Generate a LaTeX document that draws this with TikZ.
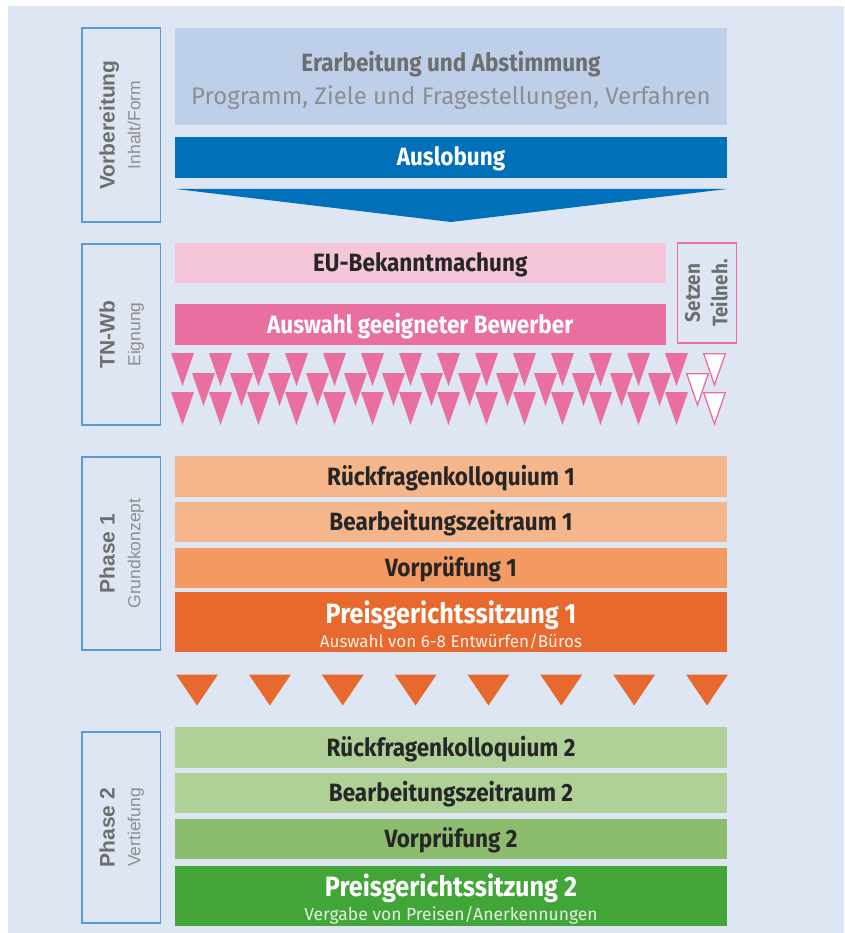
\documentclass[tikz,border=0pt]{standalone}
\usepackage{fontspec}
\setmainfont{Fira Sans}
\newfontfamily\blkfont[FakeStretch=0.9]{Fira Sans}
\newfontfamily\subfont[FakeStretch=1.0]{Fira Sans}
\newfontfamily\sidefont{Liberation Sans}
\definecolor{bg}{HTML}{DFE6F3}
\definecolor{sideline}{HTML}{5B9BD5}
\definecolor{vorb}{HTML}{BED0E9}
\definecolor{blueD}{HTML}{0070B8}
\definecolor{pinkL}{HTML}{F5C5DA}
\definecolor{pinkD}{HTML}{EA6FA1}
\definecolor{orL}{HTML}{F6B68B}
\definecolor{orM}{HTML}{F29A61}
\definecolor{orD}{HTML}{E8692D}
\definecolor{grL}{HTML}{AFD096}
\definecolor{grM}{HTML}{8CBD6E}
\definecolor{grD}{HTML}{41A537}
\definecolor{txtD}{HTML}{262626}
\definecolor{txtG}{HTML}{6E6E6E}
\definecolor{txtG2}{HTML}{8E8E8E}
\tikzset{
  sidebox/.style={draw=sideline, line width=1.5pt, inner sep=0pt},
  sidemain/.style={rotate=90, inner sep=0pt, text=txtG, font=\sidefont\bfseries\fontsize{21}{25}\selectfont, text height=15pt, text depth=0pt},
  sidesub/.style={rotate=90, inner sep=0pt, text=txtG2, font=\sidefont\fontsize{17.5}{21}\selectfont, text height=12.5pt, text depth=0pt},
  blk/.style={rectangle, inner sep=0pt, minimum width=552pt, text=txtD, font=\blkfont\bfseries\fontsize{25}{30}\selectfont, text height=17pt, text depth=0pt},
  blktxt/.style={inner sep=0pt, text depth=0pt},
  ptri/.style={fill=pinkD},
  wtri/.style={fill=white, draw=pinkD, line width=1.3pt, line join=miter},
  otri/.style={fill=orD}
}
\begin{document}
\begin{tikzpicture}[x=1pt,y=-1pt]
\fill[white] (0,0) rectangle (844,933);
\useasboundingbox (0,0) rectangle (844,933);
\fill[bg] (8,6) rectangle (844,933);

% side boxes
\node[sidebox, minimum width=78.5pt, minimum height=194pt] (sbV) at (121.25,125) {};
\node[sidemain] (sbVm) at (107,125) {Vorbereitung};
\node[sidesub] (sbVs) at (134,125) {Inhalt/Form};
\node[sidebox, minimum width=78.5pt, minimum height=181pt] (sbT) at (121.25,334.5) {};
\node[sidemain] (sbTm) at (107,334.5) {TN-Wb};
\node[sidesub] (sbTs) at (134,334.5) {Eignung};
\node[sidebox, minimum width=78.5pt, minimum height=193pt] (sb1) at (121.25,553.5) {};
\node[sidemain] (sb1m) at (107,553.5) {Phase 1};
\node[sidesub] (sb1s) at (134,553.5) {Grundkonzept};
\node[sidebox, minimum width=78.5pt, minimum height=191pt] (sb2) at (121.25,827.5) {};
\node[sidemain] (sb2m) at (107,827.5) {Phase 2};
\node[sidesub] (sb2s) at (134,827.5) {Vertiefung};

% Vorbereitung
\node[blk, fill=vorb, minimum height=97.5pt] (erarb) at (451,76.75) {};
\node[blktxt, text=txtG, font=\blkfont\bfseries\fontsize{25}{30}\selectfont, text height=17pt] (erarbT) at (451,63.5) {Erarbeitung und Abstimmung};
\node[blktxt, text=txtG2, font=\subfont\fontsize{24}{28}\selectfont, text height=16.5pt] (erarbS) at (451,96.5) {Programm, Ziele und Fragestellungen, Verfahren};
\node[blk, fill=blueD, text=white, minimum height=41pt] (ausl) at (451,157.5) {Auslobung};
\fill[blueD] (176,189) -- (727,189) -- (451,222) -- cycle;

% TN-Wb
\node[blk, fill=pinkL, minimum width=490.5pt, minimum height=40.5pt] (eu) at (420.25,262.75) {EU-Bekanntmachung};
\node[blk, fill=pinkD, text=white, minimum width=490.5pt, minimum height=41pt] (ausw) at (420.25,324.5) {Auswahl geeigneter Bewerber};
\node[draw=pinkD, line width=1.5pt, minimum width=59pt, minimum height=100pt, inner sep=0pt] (setz) at (707,293) {};
\node[rotate=90, inner sep=0pt, text=txtG, font=\blkfont\bfseries\fontsize{21}{25}\selectfont, text height=14.5pt, text depth=0pt] (setzA) at (692.5,293) {Setzen};
\node[rotate=90, inner sep=0pt, text=txtG, font=\blkfont\bfseries\fontsize{21}{25}\selectfont, text height=14.5pt, text depth=0pt] (setzB) at (720,293) {Teilneh.};

% triangles
\foreach \i in {0,...,13} {\fill[ptri] (171+38*\i,353) -- ++(23,0) -- ++(-11.5,33) -- cycle;}
\draw[wtri] (171+38*14+0.7,353.7) -- ++(21.6,0) -- ++(-10.8,31.3) -- cycle;
\foreach \i in {0,...,12} {\fill[ptri] (192+38*\i,373) -- ++(23,0) -- ++(-11.5,33) -- cycle;}
\draw[wtri] (192+38*13+0.7,373.7) -- ++(21.6,0) -- ++(-10.8,31.3) -- cycle;
\foreach \i in {0,...,13} {\fill[ptri] (171+38*\i,392) -- ++(23,0) -- ++(-11.5,33) -- cycle;}
\draw[wtri] (171+38*14+0.7,392.7) -- ++(21.6,0) -- ++(-10.8,31.3) -- cycle;

% Phase 1
\node[blk, fill=orL, minimum height=40.5pt] (r1) at (451,476.5) {Rückfragenkolloquium 1};
\node[blk, fill=orL, minimum height=40pt] (b1) at (451,522) {Bearbeitungszeitraum 1};
\node[blk, fill=orM, minimum height=40.5pt] (v1) at (451,568) {Vorprüfung 1};
\node[blk, fill=orD, minimum height=59.5pt] (p1) at (451,622) {};
\node[blktxt, text=white, font=\blkfont\bfseries\fontsize{28}{33}\selectfont, text height=19pt] (p1t) at (451,614) {Preisgerichtssitzung 1};
\node[blktxt, text=white!90!orD, font=\subfont\fontsize{17}{20}\selectfont, text height=12pt] (p1s) at (451,641.3) {Auswahl von 6-8 Entwürfen/Büros};

\foreach \i in {0,...,7} {\fill[otri] (176+72.86*\i,674.5) -- ++(42,0) -- ++(-21,31) -- cycle;}

% Phase 2
\node[blk, fill=grL, minimum height=41pt] (r2) at (451,747.8) {Rückfragenkolloquium 2};
\node[blk, fill=grL, minimum height=40pt] (b2) at (451,793.3) {Bearbeitungszeitraum 2};
\node[blk, fill=grM, minimum height=40.3pt] (v2) at (451,839.2) {Vorprüfung 2};
\node[blk, fill=grD, minimum height=60pt] (p2) at (451,896) {};
\node[blktxt, text=white, font=\blkfont\bfseries\fontsize{28}{33}\selectfont, text height=19pt] (p2t) at (451,886.7) {Preisgerichtssitzung 2};
\node[blktxt, text=white!85!grD, font=\subfont\fontsize{17.5}{21}\selectfont, text height=12pt] (p2s) at (451,914) {Vergabe von Preisen/Anerkennungen};
\end{tikzpicture}
\end{document}
